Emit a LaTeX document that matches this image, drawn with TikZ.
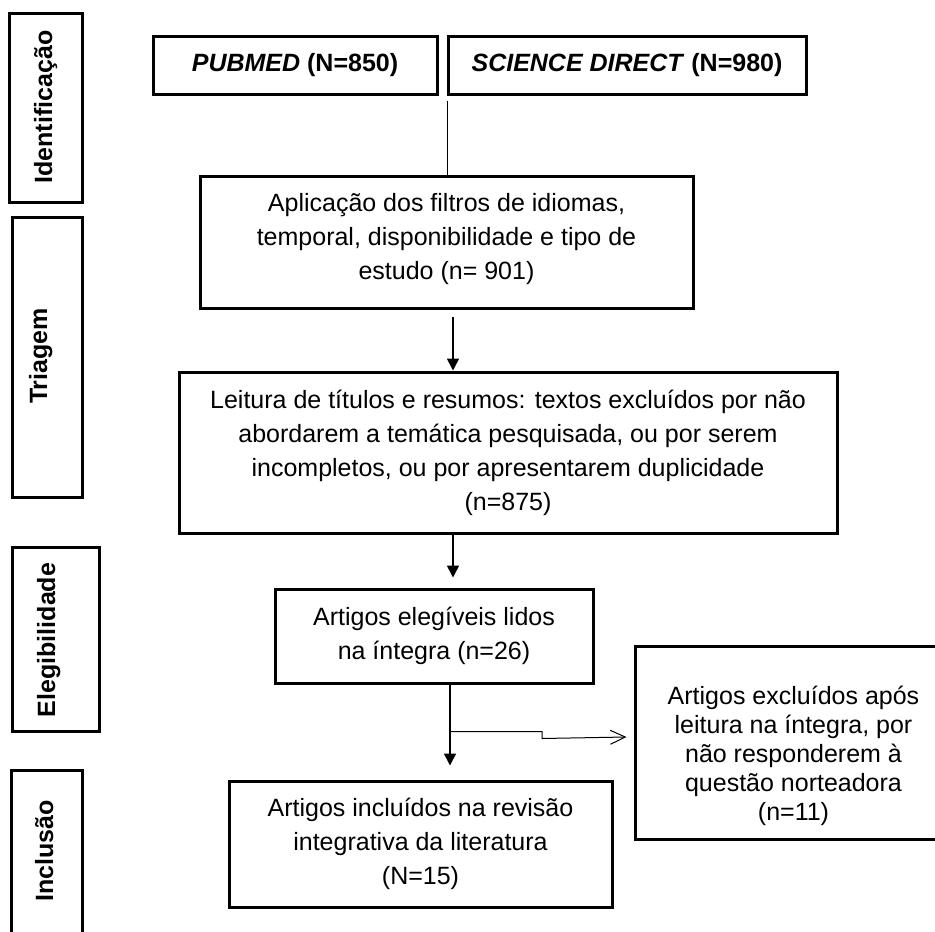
\documentclass[tikz,border=0pt]{standalone}
\usepackage{fontspec}
\setmainfont{Liberation Sans}
\usetikzlibrary{arrows.meta,positioning}
\tikzset{frame/.style ={
        draw=black,
        line width=3pt,
    },
    sidetxt/.style ={
        rotate=90,
        anchor=base,
        inner sep=0pt,
        font=\fontsize{25}{30}\selectfont\bfseries
    },
    arr/.style ={
        draw,
        line width=1.6pt,
        -{Triangle[length=12pt,width=12pt]}
    },
    branch/.style ={
        draw,
        line width=1pt,
        -{Straight Barb[length=15pt,width=14pt]}
    },
    link/.style ={
        draw,
        line width=1.4pt
    }}

\begin{document}
\begin{tikzpicture}
    [
    x=1pt, y=-1pt,
    block/.style ={
        rectangle,
        frame,
        inner sep=0pt,
        align=center,
        font=\fontsize{25}{34}\selectfont
    },
    source/.style={
        block,
        minimum height=58pt,
        font=\fontsize{25}{30}\selectfont\bfseries
    }
    ]
    \useasboundingbox (0,0) rectangle (935,932);

    % fases
    \draw[frame] (9,13) rectangle (82,202);
    \draw[frame] (12,217) rectangle (82,497);
    \draw[frame] (12,547) rectangle (99,731);
    \draw[frame] (11,945) -- (11,770) -- (82,770) -- (82,945);
    \node (ident)[sidetxt] at (52,107) {Identificação};
    \node (triagem)[sidetxt] at (47,356) {Triagem};
    \node (eleg)[sidetxt] at (55,640) {Elegibilidade};
    \node (inclusao)[sidetxt] at (53,851) {Inclusão};

    \node (pubmed)[source,minimum width=284pt] at (295,65) {\textit{PUBMED} (N=850)};
    \node (science)[source,minimum width=358pt] at (627,65) {\textit{SCIENCE DIRECT} (N=980)};
    \node (filtros)[block,minimum width=493pt,minimum height=132pt] at (446.5,242)
        {Aplicação dos filtros de idiomas,\\temporal, disponibilidade e tipo de\\estudo (n= 901)\\[-22pt]};
    \node (leitura)[block,minimum width=658pt,minimum height=161pt] at (508,452.5)
        {Leitura de títulos e resumos: textos excluídos por não\\abordarem a temática pesquisada, ou por serem\\incompletos, ou por apresentarem duplicidade\\(n=875)};
    \node (elegiveis)[block,minimum width=318pt,minimum height=94pt] at (434,636)
        {Artigos elegíveis lidos\\na íntegra (n=26)};
    \node (incluidos)[block,minimum width=383pt,minimum height=126pt] at (420.5,844)
        {Artigos incluídos na revisão\\integrativa da literatura\\(N=15)};
    \node (excluidos)[block,draw=none,minimum width=313pt,minimum height=190pt] at (793.5,743) {};
    \node (exctxt)[block,draw=none,font=\fontsize{25}{29}\selectfont] at (793.5,756)
        {Artigos excluídos após\\leitura na íntegra, por\\não responderem à\\questão norteadora\\(n=11)};
    \draw[frame] (excluidos.north east) -- (excluidos.north west)
        -- (excluidos.south west) -- (excluidos.south east);

    \coordinate (split) at ([xshift=16pt,yshift=-47pt]elegiveis.south);

    \draw[link] ([xshift=1pt,yshift=-5pt]science.south west) -- ([xshift=1pt]science.south west |- filtros.north);
    \draw[arr] ([xshift=6.5pt,yshift=-7pt]filtros.south) -- ([xshift=6.5pt]filtros.south |- leitura.north);
    \draw[arr] ([xshift=19pt]elegiveis.north |- leitura.south) -- ([xshift=19pt,yshift=10pt]elegiveis.north);
    \draw[arr] ([xshift=16pt]elegiveis.south) -- ([xshift=29.5pt,yshift=14pt]incluidos.north);
    \draw[branch] (split) -- ++(92,0) -- ++(0,7) -- ([xshift=-9pt,yshift=6pt]excluidos.west);

\end{tikzpicture}
\end{document}
